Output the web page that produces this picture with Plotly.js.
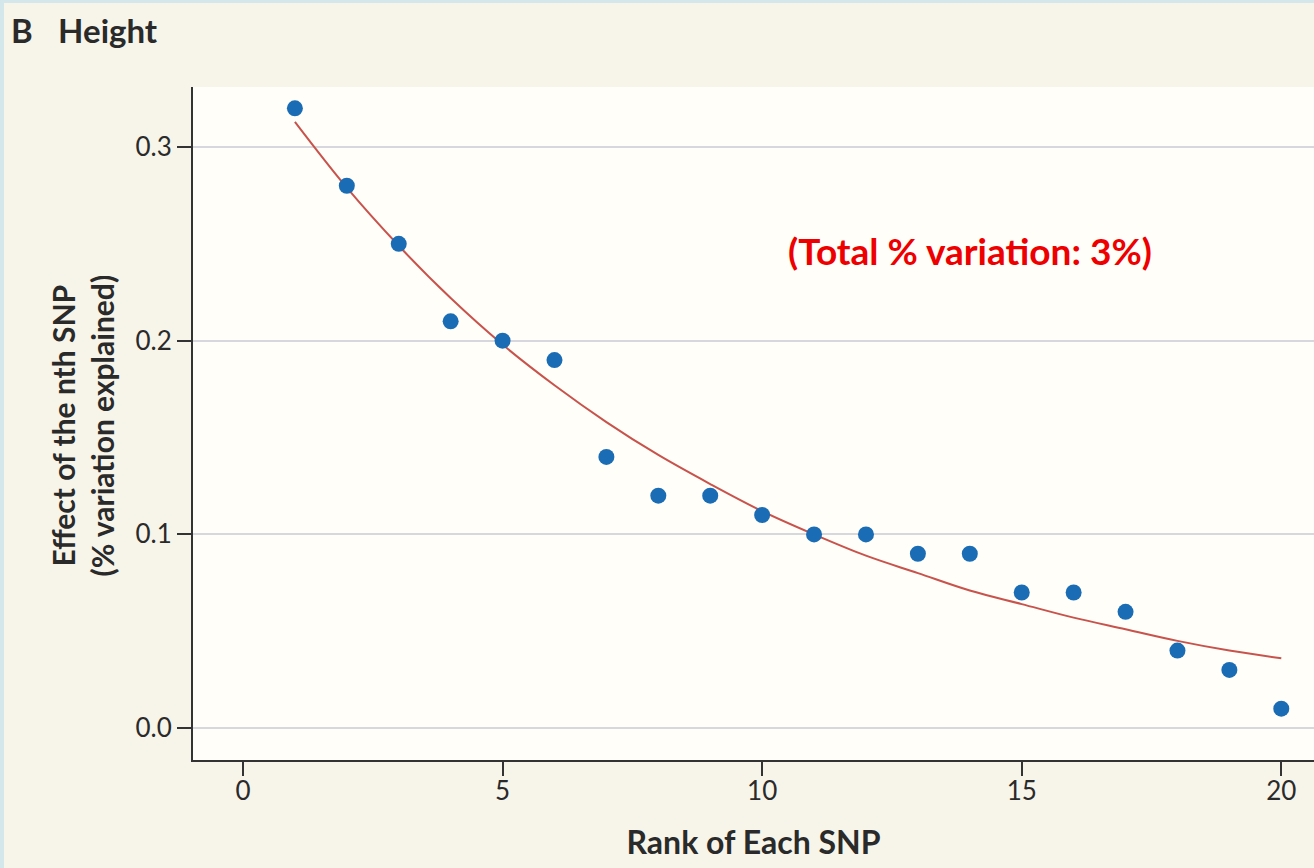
<!DOCTYPE html>
<html>
<head>
<meta charset="utf-8">
<script src="https://cdn.plot.ly/plotly-3.0.1.min.js"></script>
<style>
  html, body { margin: 0; padding: 0; background: #d4e7ea; width: 1314px; height: 868px; overflow: hidden; }
  #chart { position: absolute; left: 4px; top: 3px; width: 1310px; height: 865px; }
</style>
</head>
<body>
<div id="chart"></div>
<script>
// Observed effect (% variation explained) for each SNP rank
const ranks = [1,2,3,4,5,6,7,8,9,10,11,12,13,14,15,16,17,18,19,20];
const effects = [0.32,0.28,0.25,0.21,0.20,0.19,0.14,0.12,0.12,0.11,0.10,0.10,0.09,0.09,0.07,0.07,0.06,0.04,0.03,0.01];

// Fitted curve
const fitX = [1,2,3,4,5,6,7,8,9,10,11,12,13,14,15,16,17,18,19,20];
const fitY = [0.313,0.279,0.249,0.222,0.198,0.177,0.158,0.141,0.126,0.112,0.100,0.089,0.080,0.071,0.064,0.057,0.051,0.045,0.040,0.036];

const xTicks = [0,5,10,15,20];
const yTicks = [0.0,0.1,0.2,0.3];
const yTickText = ["0.0","0.1","0.2","0.3"];

const titleText = "<b>B</b>&nbsp;&nbsp;&nbsp;<b>Height</b>";
const xTitle = "<b>Rank of Each SNP</b>";
const yTitle = "<b>Effect of the nth SNP<br>(% variation explained)</b>";
const noteText = "<b>(Total % variation: 3%)</b>";

const FONT = "Lato, 'Open Sans', sans-serif";

const traces = [
  {
    x: fitX, y: fitY, type: 'scatter', mode: 'lines',
    line: { color: '#c8534c', width: 2, shape: 'spline' },
    hoverinfo: 'skip', showlegend: false
  },
  {
    x: ranks, y: effects, type: 'scatter', mode: 'markers',
    marker: { color: '#1a6db4', size: 16 },
    showlegend: false
  }
];

const layout = {
  width: 1310, height: 865,
  margin: { l: 189, r: 0, t: 84, b: 108 },
  paper_bgcolor: '#f7f5e9',
  plot_bgcolor: '#fffef9',
  font: { family: FONT, color: '#2a2a2a', size: 26 },
  showlegend: false,
  xaxis: {
    range: [-0.963, 20.63],
    tickvals: xTicks,
    ticktext: xTicks.map(String),
    ticks: 'outside', ticklen: 14, tickwidth: 2, tickcolor: '#333',
    ticklabelstandoff: -7,
    showline: true, linecolor: '#333', linewidth: 2, mirror: false,
    showgrid: false, zeroline: false,
    tickfont: { family: FONT, size: 26, color: '#2a2a2a' },
    title: { text: xTitle, font: { family: FONT, size: 32, color: '#2a2a2a' }, standoff: 26 }
  },
  yaxis: {
    range: [-0.0165, 0.331],
    tickvals: yTicks,
    ticktext: yTickText,
    ticks: 'outside', ticklen: 14, tickwidth: 2, tickcolor: '#333',
    showline: true, linecolor: '#333', linewidth: 2,
    showgrid: true, gridcolor: '#d6d8dd', gridwidth: 2,
    zeroline: false,
    tickfont: { family: FONT, size: 26, color: '#2a2a2a' }
  },
  annotations: [
    {
      text: titleText, xref: 'paper', yref: 'paper',
      x: -0.1645, y: 1.085, xanchor: 'left', yanchor: 'middle',
      showarrow: false, font: { family: FONT, size: 33, color: '#2a2a2a' }
    },
    {
      text: yTitle, xref: 'paper', yref: 'paper',
      x: -0.099, y: 0.497, xanchor: 'center', yanchor: 'middle',
      textangle: -90, showarrow: false,
      font: { family: FONT, size: 30, color: '#2a2a2a' }
    },
    {
      text: noteText, xref: 'paper', yref: 'paper',
      x: 0.693, y: 0.757, xanchor: 'center', yanchor: 'middle',
      showarrow: false, font: { family: FONT, size: 37, color: '#ee0000' }
    }
  ]
};

Plotly.newPlot('chart', traces, layout, { displayModeBar: false, staticPlot: true });
</script>
</body>
</html>
